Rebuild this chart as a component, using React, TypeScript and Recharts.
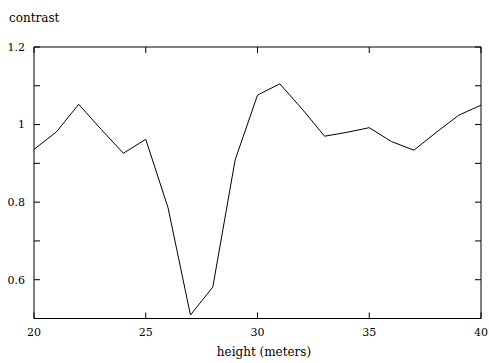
import { LineChart, Line, XAxis, YAxis, Label } from "recharts";

const heights = [20, 21, 22, 23, 24, 25, 26, 27, 28, 29, 30, 31, 32, 33, 34, 35, 36, 37, 38, 39, 40];
const contrast = [
  0.936, 0.981, 1.052, 0.988, 0.926, 0.962, 0.785, 0.509, 0.581, 0.909, 1.076,
  1.105, 1.04, 0.97, 0.98, 0.992, 0.956, 0.934, 0.98, 1.024, 1.05,
];
const xTicks = [20, 25, 30, 35, 40];
const yTicks = [0.6, 0.7, 0.8, 0.9, 1, 1.1, 1.2];
const yLabeled = ["0.6", "0.8", "1", "1.2"];

const font = '"DejaVu Serif", serif';
const tickStyle = { fill: "#000", fontSize: 11, fontFamily: font };
const axisLine = { stroke: "#000", strokeWidth: 1 };

export default function App() {
  const data = heights.map((h, i) => ({ height: h, contrast: contrast[i] }));
  return (
    <div style={{ position: "absolute", left: 0, top: 0, background: "#fff", fontFamily: font }}>
      <LineChart width={489} height={363} data={data} margin={{ top: 46, right: 7, bottom: 0, left: 0 }}>
        <XAxis
          dataKey="height"
          type="number"
          domain={[20, 40]}
          ticks={xTicks}
          height={44.5}
          tickSize={-6}
          tickMargin={15.5}
          tick={tickStyle}
          axisLine={axisLine}
          tickLine={axisLine}
        >
          <Label
            content={() => (
              <text x={264} y={356} textAnchor="middle" fontSize={12} fontFamily={font} fill="#000">
                height (meters)
              </text>
            )}
          />
        </XAxis>
        <XAxis
          xAxisId="top"
          dataKey="height"
          type="number"
          orientation="top"
          domain={[20, 40]}
          ticks={xTicks}
          height={1}
          tickSize={-6}
          tickFormatter={() => ""}
          axisLine={axisLine}
          tickLine={axisLine}
        />
        <YAxis
          type="number"
          domain={[0.5, 1.2]}
          ticks={yTicks}
          width={34}
          tickSize={-6}
          tickMargin={15}
          tick={tickStyle}
          tickFormatter={(v: number) => (yLabeled.includes(String(v)) ? String(v) : "")}
          axisLine={axisLine}
          tickLine={axisLine}
        >
          <Label
            content={() => (
              <text x={9} y={22} fontSize={12} fontFamily={font} fill="#000">
                contrast
              </text>
            )}
          />
        </YAxis>
        <YAxis
          yAxisId="right"
          orientation="right"
          type="number"
          domain={[0.5, 1.2]}
          ticks={yTicks}
          width={1}
          tickSize={-6}
          tickFormatter={() => ""}
          axisLine={axisLine}
          tickLine={axisLine}
        />
        <Line
          type="linear"
          dataKey="contrast"
          stroke="#000"
          strokeWidth={1}
          dot={false}
          isAnimationActive={false}
        />
        <Line
          xAxisId="top"
          yAxisId="right"
          type="linear"
          dataKey="contrast"
          stroke="none"
          dot={false}
          isAnimationActive={false}
        />
      </LineChart>
    </div>
  );
}
